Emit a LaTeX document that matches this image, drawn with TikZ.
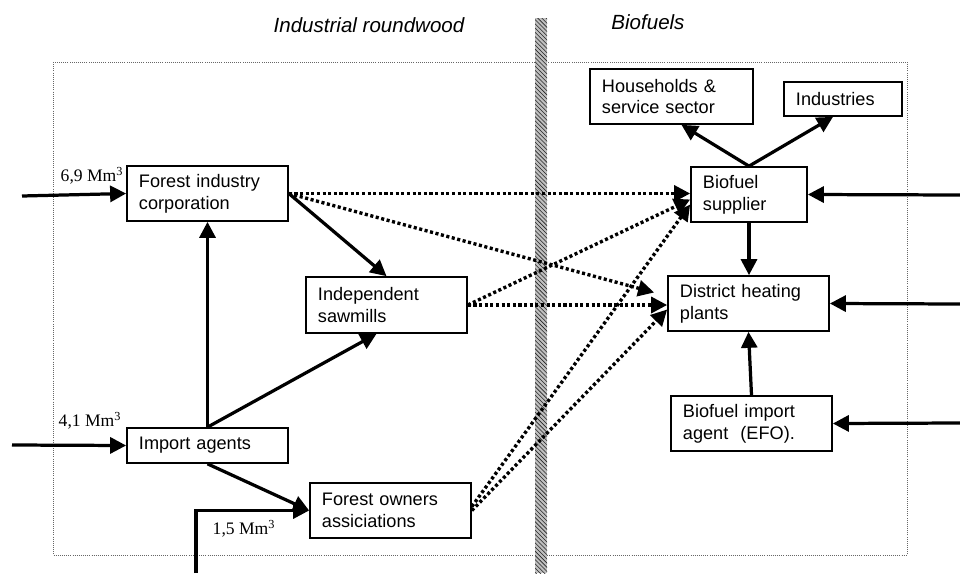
\documentclass[tikz,border=0pt]{standalone}
\usepackage{fontspec}
\setmainfont{Liberation Sans}
\newfontfamily\amountfont{Liberation Serif}
\usetikzlibrary{arrows.meta,calc,patterns,positioning}
\tikzset{
    box/.style={draw, rectangle, line width=1.2pt, align=left, inner xsep=0.3cm, inner ysep=0pt,
                font=\fontsize{12.9}{15.5}\selectfont},
    dotflow/.style={line width=2.4pt, dash pattern=on 2.2pt off 1.8pt},
    amount/.style={inner sep=0pt, font=\amountfont\fontsize{12.5}{14}\selectfont},
    sector/.style={inner sep=0pt, font=\itshape\fontsize{14.6}{17}\selectfont}
}

\begin{document}
\begin{tikzpicture}[x=0.025cm, y=-0.025cm, -{Triangle[length=0.4cm,width=0.4cm]}, line width=2.3pt]
    \useasboundingbox (0,0) rectangle (960,573);

    % frame and border between the two sectors
    \draw[-, densely dotted, line width=0.5pt, black!60] (53,62) rectangle (907,555);
    \fill[black!25] (535,18) rectangle (547,573);
    \fill[pattern=north west lines, pattern color=black!85] (535,18) rectangle (547,573);

    \node[sector] (irw) at (369,25) {Industrial roundwood};
    \node[sector] (bio) at (648,22) {Biofuels};

    % roundwood side
    \node[box, text width=3.425cm, minimum height=1.375cm] (fic) at (207.5,193.5) {Forest industry\\corporation};
    \node[box, text width=3.425cm, minimum height=1.4cm] (saw) at (386.5,305) {Independent\\sawmills};
    \node[box, text width=3.425cm, minimum height=0.875cm] (imp) at (207.5,445.5) {Import agents};
    \node[box, text width=3.425cm, minimum height=1.375cm] (foa) at (390.5,510.5) {Forest owners\\assiciations};

    % biofuel side
    \node[box, text width=3.475cm, minimum height=1.375cm] (hh) at (671.5,96.5) {Households \&\\service sector};
    \node[box, text width=2.35cm, minimum height=0.85cm] (ind) at (843,99) {Industries};
    \node[box, text width=2.3cm, minimum height=1.375cm] (bs) at (749,194.5) {Biofuel\\supplier};
    \node[box, text width=3.425cm, minimum height=1.375cm] (dh) at (748.5,303.5) {District heating\\plants};
    \node[box, text width=3.425cm, minimum height=1.375cm] (efo) at (751.5,423.5) {Biofuel import\\agent~ (EFO).};

    \coordinate (in69) at (22,196);
    \coordinate (in41) at (12,445);
    \coordinate (in15) at (196,573);
    \coordinate (bsin) at (960,195);
    \coordinate (dhin) at (960,304);
    \coordinate (efoin) at (960,423);

    \node[amount] (m69) at (92,176) {6,9 Mm\textsuperscript{3}};
    \node[amount] (m41) at (90,421) {4,1 Mm\textsuperscript{3}};
    \node[amount] (m15) at (244,529) {1,5 Mm\textsuperscript{3}};

    \path (in69) edge (fic.west)
          (in41) edge (imp.west)
          (imp.north) edge (fic.south)
          (imp.north) edge ($(saw.south)+(-10,0)$)
          (fic.east) edge (saw.north)
          (imp.south) edge (foa.west);
    \draw (in15) |- (foa.west);

    \path[dotflow] (fic.east) edge (fic.east -| bs.west)
          (fic.east) edge ($(dh.west)+(-13,-11)$)
          (saw.east) edge (saw.east -| dh.west)
          (saw.east) edge ($(bs.west)+(0,5)$)
          ($(foa.east)+(0,-4)$) edge ($(bs.west)+(0,10)$)
          (foa.east) edge ($(dh.west)+(0,6)$);

    \path (bs.north) edge ($(hh.south)+(10,0)$)
          (bs.north) edge ($(ind.south)+(-10,0)$)
          (bs.south) edge (bs.south |- dh.north)
          (efo.north) edge (dh.south)
          (bsin) edge (bs.east)
          (dhin) edge (dh.east)
          (efoin) edge (efo.east);

\end{tikzpicture}
\end{document}
